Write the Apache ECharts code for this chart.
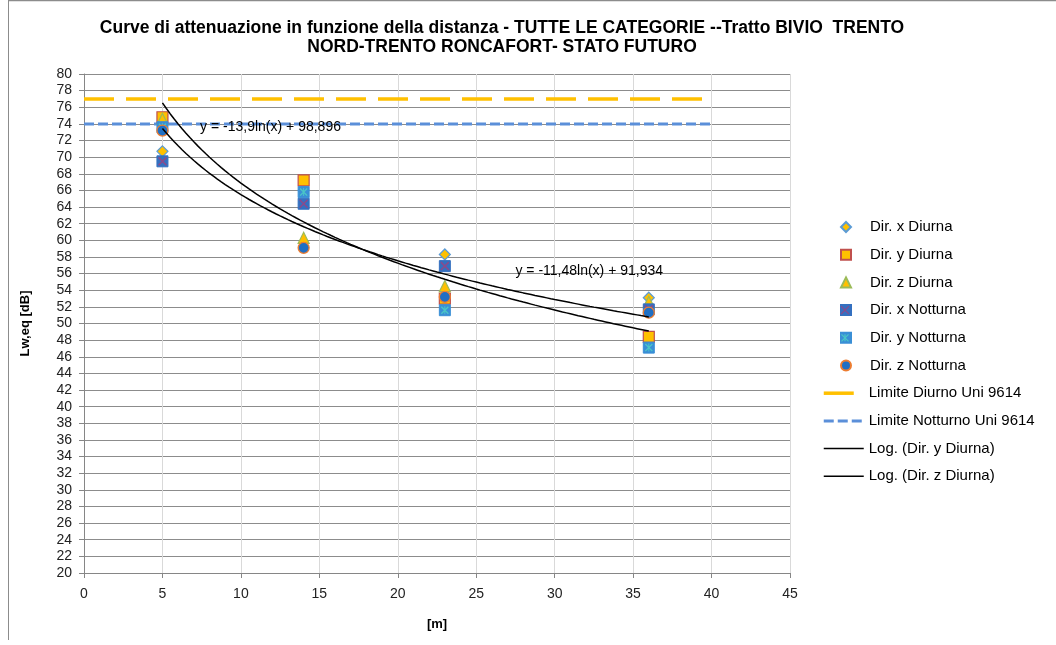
<!DOCTYPE html>
<html>
<head>
<meta charset="utf-8">
<script src="https://cdn.jsdelivr.net/npm/echarts@6/dist/echarts.min.js"></script>
<style>
html,body{margin:0;padding:0;background:#fff;}
#chart{width:1056px;height:645px;}
</style>
</head>
<body>
<div id="chart"></div>
<script>
// ---- data ----
const distances = [5, 14, 23, 36];
const dirXDiurna = [70.7, 66.0, 58.3, 53.1];
const dirYDiurna = [74.8, 67.2, 53.0, 48.4];
const dirZDiurna = [74.6, 60.3, 54.5, 52.6];
const dirXNotturna = [69.5, 64.4, 56.9, 51.7];
const dirYNotturna = [73.6, 65.8, 51.6, 47.1];
const dirZNotturna = [73.2, 59.1, 53.2, 51.3];
const limitX = [0, 40];
const limiteDiurno = [77, 77];
const limiteNotturno = [74, 74];
// trendline coefficients as printed on the chart: y = a*ln(x) + b
const trendYDiurna = [-13.9, 98.896];
const trendZDiurna = [-11.48, 91.934];
const trendRange = [5, 36];
const eqLabels = ['y = -13,9ln(x) + 98,896', 'y = -11,48ln(x) + 91,934'];
const eqAnchors = [[7.4, 73.6], [27.5, 56.3]];
const xTicks = [0, 45, 5];
const yTicks = [20, 80, 2];
const scatterNames = ['Dir. x Diurna', 'Dir. y Diurna', 'Dir. z Diurna', 'Dir. x Notturna', 'Dir. y Notturna', 'Dir. z Notturna'];
const lineNames = ['Limite Diurno Uni 9614', 'Limite Notturno Uni 9614', 'Log. (Dir. y Diurna)', 'Log. (Dir. z Diurna)'];
const lineLegendWidths = [3.5, 3, 1.5, 1.5];

const pts = (xs, ys) => xs.map((x, i) => [x, ys[i]]);
function trend(c) {
  const out = [];
  for (let x = trendRange[0]; x <= trendRange[1] + 1e-9; x += 0.25) {
    out.push([x, c[0] * Math.log(x) + c[1]]);
  }
  return out;
}

const FONT = 'Liberation Sans';
const X_PATH = 'path://M0,1.2 L1.2,0 L10,8.8 L8.8,10 Z M8.8,0 L10,1.2 L1.2,10 L0,8.8 Z';
const STAR_PATH = 'path://M0,1.2 L1.2,0 L10,8.8 L8.8,10 Z M8.8,0 L10,1.2 L1.2,10 L0,8.8 Z M4.4,0 L5.6,0 L5.6,10 L4.4,10 Z';

const chart = echarts.init(document.getElementById('chart'), null, {renderer: 'canvas'});

const STEP = 27.7;
const ITEM_H = 15;
const LEG_Y0 = 227;
const legendText = {fontFamily: FONT, fontSize: 15, color: '#000', lineHeight: ITEM_H};

const option = {
  animation: false,
  backgroundColor: '#fff',
  title: {
    text: 'Curve di attenuazione in funzione della distanza - TUTTE LE CATEGORIE --Tratto BIVIO  TRENTO\nNORD-TRENTO RONCAFORT- STATO FUTURO',
    left: 497, top: 14, textAlign: 'center',
    textStyle: {fontFamily: FONT, fontWeight: 'bold', fontSize: 17.5, lineHeight: 19, color: '#000'}
  },
  grid: {left: 84, right: 266, top: 74, bottom: 72, containLabel: false},
  legend: [
    {
      orient: 'vertical', left: 840, top: LEG_Y0 - ITEM_H / 2, padding: 0,
      itemWidth: 10, itemHeight: 10, itemGap: STEP - ITEM_H,
      selectedMode: false,
      textStyle: Object.assign({padding: [0, 0, 0, 14]}, legendText),
      data: scatterNames
    },
    {
      orient: 'vertical', left: 822, top: LEG_Y0 + STEP * 6 - ITEM_H / 2, padding: 0,
      itemWidth: 40, itemHeight: 10, itemGap: STEP - ITEM_H,
      selectedMode: false,
      itemStyle: {opacity: 0},
      textStyle: legendText,
      data: lineNames.map((n, i) => ({name: n, lineStyle: {width: lineLegendWidths[i]}}))
    }
  ],
  xAxis: {
    type: 'value', min: xTicks[0], max: xTicks[1], interval: xTicks[2],
    name: '[m]', nameLocation: 'middle', nameGap: 45,
    nameTextStyle: {fontFamily: FONT, fontWeight: 'bold', fontSize: 13, color: '#000'},
    axisLine: {show: true, lineStyle: {color: '#868686', width: 1}},
    axisTick: {show: true, inside: false, length: 5, lineStyle: {color: '#868686'}},
    axisLabel: {fontFamily: FONT, fontSize: 14, color: '#222', margin: 14},
    splitLine: {show: true, lineStyle: {color: '#d9d9d9', width: 1}}
  },
  yAxis: {
    type: 'value', min: yTicks[0], max: yTicks[1], interval: yTicks[2],
    name: 'Lw,eq [dB]', nameLocation: 'middle', nameGap: 52, nameRotate: 90,
    nameTextStyle: {fontFamily: FONT, fontWeight: 'bold', fontSize: 13, color: '#000'},
    axisLine: {show: true, lineStyle: {color: '#868686', width: 1}},
    axisTick: {show: true, inside: false, length: 5, lineStyle: {color: '#868686'}},
    axisLabel: {fontFamily: FONT, fontSize: 14, color: '#222', margin: 12},
    splitLine: {show: true, lineStyle: {color: '#8c8c8c', width: 1}}
  },
  series: [
    {name: 'Limite Diurno Uni 9614', type: 'line', data: pts(limitX, limiteDiurno), symbol: 'none',
     lineStyle: {color: '#FFC000', width: 3.5, type: [30, 12]}, itemStyle: {color: '#FFC000'}, z: 2},
    {name: 'Limite Notturno Uni 9614', type: 'line', data: pts(limitX, limiteNotturno), symbol: 'none',
     lineStyle: {color: '#5B8FD9', width: 3, type: [10, 4]}, itemStyle: {color: '#5B8FD9'}, z: 2},
    {name: 'Dir. x Diurna', type: 'scatter', data: pts(distances, dirXDiurna), symbol: 'diamond', symbolSize: 11,
     itemStyle: {color: '#FFC000', borderColor: '#5B9BD5', borderWidth: 1.2, opacity: 1}, z: 3},
    {name: 'Dir. y Diurna', type: 'scatter', data: pts(distances, dirYDiurna), symbol: 'rect', symbolSize: 11,
     itemStyle: {color: '#FFC000', borderColor: '#C0504D', borderWidth: 1.2, opacity: 1}, z: 3},
    {name: 'Dir. z Diurna', type: 'scatter', data: pts(distances, dirZDiurna), symbol: 'triangle', symbolSize: 11,
     itemStyle: {color: '#FFC000', borderColor: '#9BBB59', borderWidth: 1.2, opacity: 1}, z: 3},
    {name: 'Dir. x Notturna', type: 'scatter', data: pts(distances, dirXNotturna), symbol: 'rect', symbolSize: 11,
     itemStyle: {color: '#3470C0', borderColor: '#3470C0', borderWidth: 1, opacity: 1}, z: 3},
    {name: 'xNottOverlay', type: 'scatter', data: pts(distances, dirXNotturna), symbol: X_PATH, symbolSize: 9,
     itemStyle: {color: '#8B4A8B', opacity: 1}, z: 3, silent: true},
    {name: 'Dir. y Notturna', type: 'scatter', data: pts(distances, dirYNotturna), symbol: 'rect', symbolSize: 11,
     itemStyle: {color: '#3A8FD6', borderColor: '#3A8FD6', borderWidth: 1, opacity: 1}, z: 3},
    {name: 'yNottOverlay', type: 'scatter', data: pts(distances, dirYNotturna), symbol: STAR_PATH, symbolSize: 8,
     itemStyle: {color: '#4BC6C6', opacity: 1}, z: 3, silent: true},
    {name: 'Dir. z Notturna', type: 'scatter', data: pts(distances, dirZNotturna), symbol: 'circle', symbolSize: 11,
     itemStyle: {color: '#1F6FC4', borderColor: '#ED7D31', borderWidth: 1.3, opacity: 1}, z: 3},
    {name: 'Log. (Dir. y Diurna)', type: 'line', data: trend(trendYDiurna), symbol: 'none', smooth: false,
     lineStyle: {color: '#000', width: 1.5}, itemStyle: {color: '#000'}, z: 4},
    {name: 'Log. (Dir. z Diurna)', type: 'line', data: trend(trendZDiurna), symbol: 'none', smooth: false,
     lineStyle: {color: '#000', width: 1.5}, itemStyle: {color: '#000'}, z: 4}
  ]
};
chart.setOption(option);

// equation labels + frame + legend glyph overlays
const g = [];
eqLabels.forEach((t, i) => {
  const p = chart.convertToPixel({gridIndex: 0}, eqAnchors[i]);
  g.push({type: 'text', x: p[0], y: p[1], z: 10,
    style: {text: t, fontFamily: FONT, fontSize: 14, fill: '#000', textVerticalAlign: 'middle', textAlign: 'left'}});
});
g.push({type: 'line', shape: {x1: 8, y1: 0.5, x2: 1056, y2: 0.5}, style: {stroke: '#8c8c8c', lineWidth: 1.5}});
g.push({type: 'line', shape: {x1: 8.5, y1: 0, x2: 8.5, y2: 640}, style: {stroke: '#8c8c8c', lineWidth: 1}});
// legend overlays (X and asterisk in box icons)
const legX = 845;
function xGlyph(cx, cy, s, col, star) {
  const h = s / 2;
  const lines = [[cx - h, cy - h, cx + h, cy + h], [cx + h, cy - h, cx - h, cy + h]];
  if (star) lines.push([cx, cy - h, cx, cy + h]);
  lines.forEach(l => g.push({type: 'line', z: 20, shape: {x1: l[0], y1: l[1], x2: l[2], y2: l[3]}, style: {stroke: col, lineWidth: 1.2}}));
}
xGlyph(legX, LEG_Y0 + STEP * 3, 8, '#8B4A8B', false);
xGlyph(legX, LEG_Y0 + STEP * 4, 7, '#4BC6C6', true);
chart.setOption({graphic: g});
</script>
</body>
</html>
